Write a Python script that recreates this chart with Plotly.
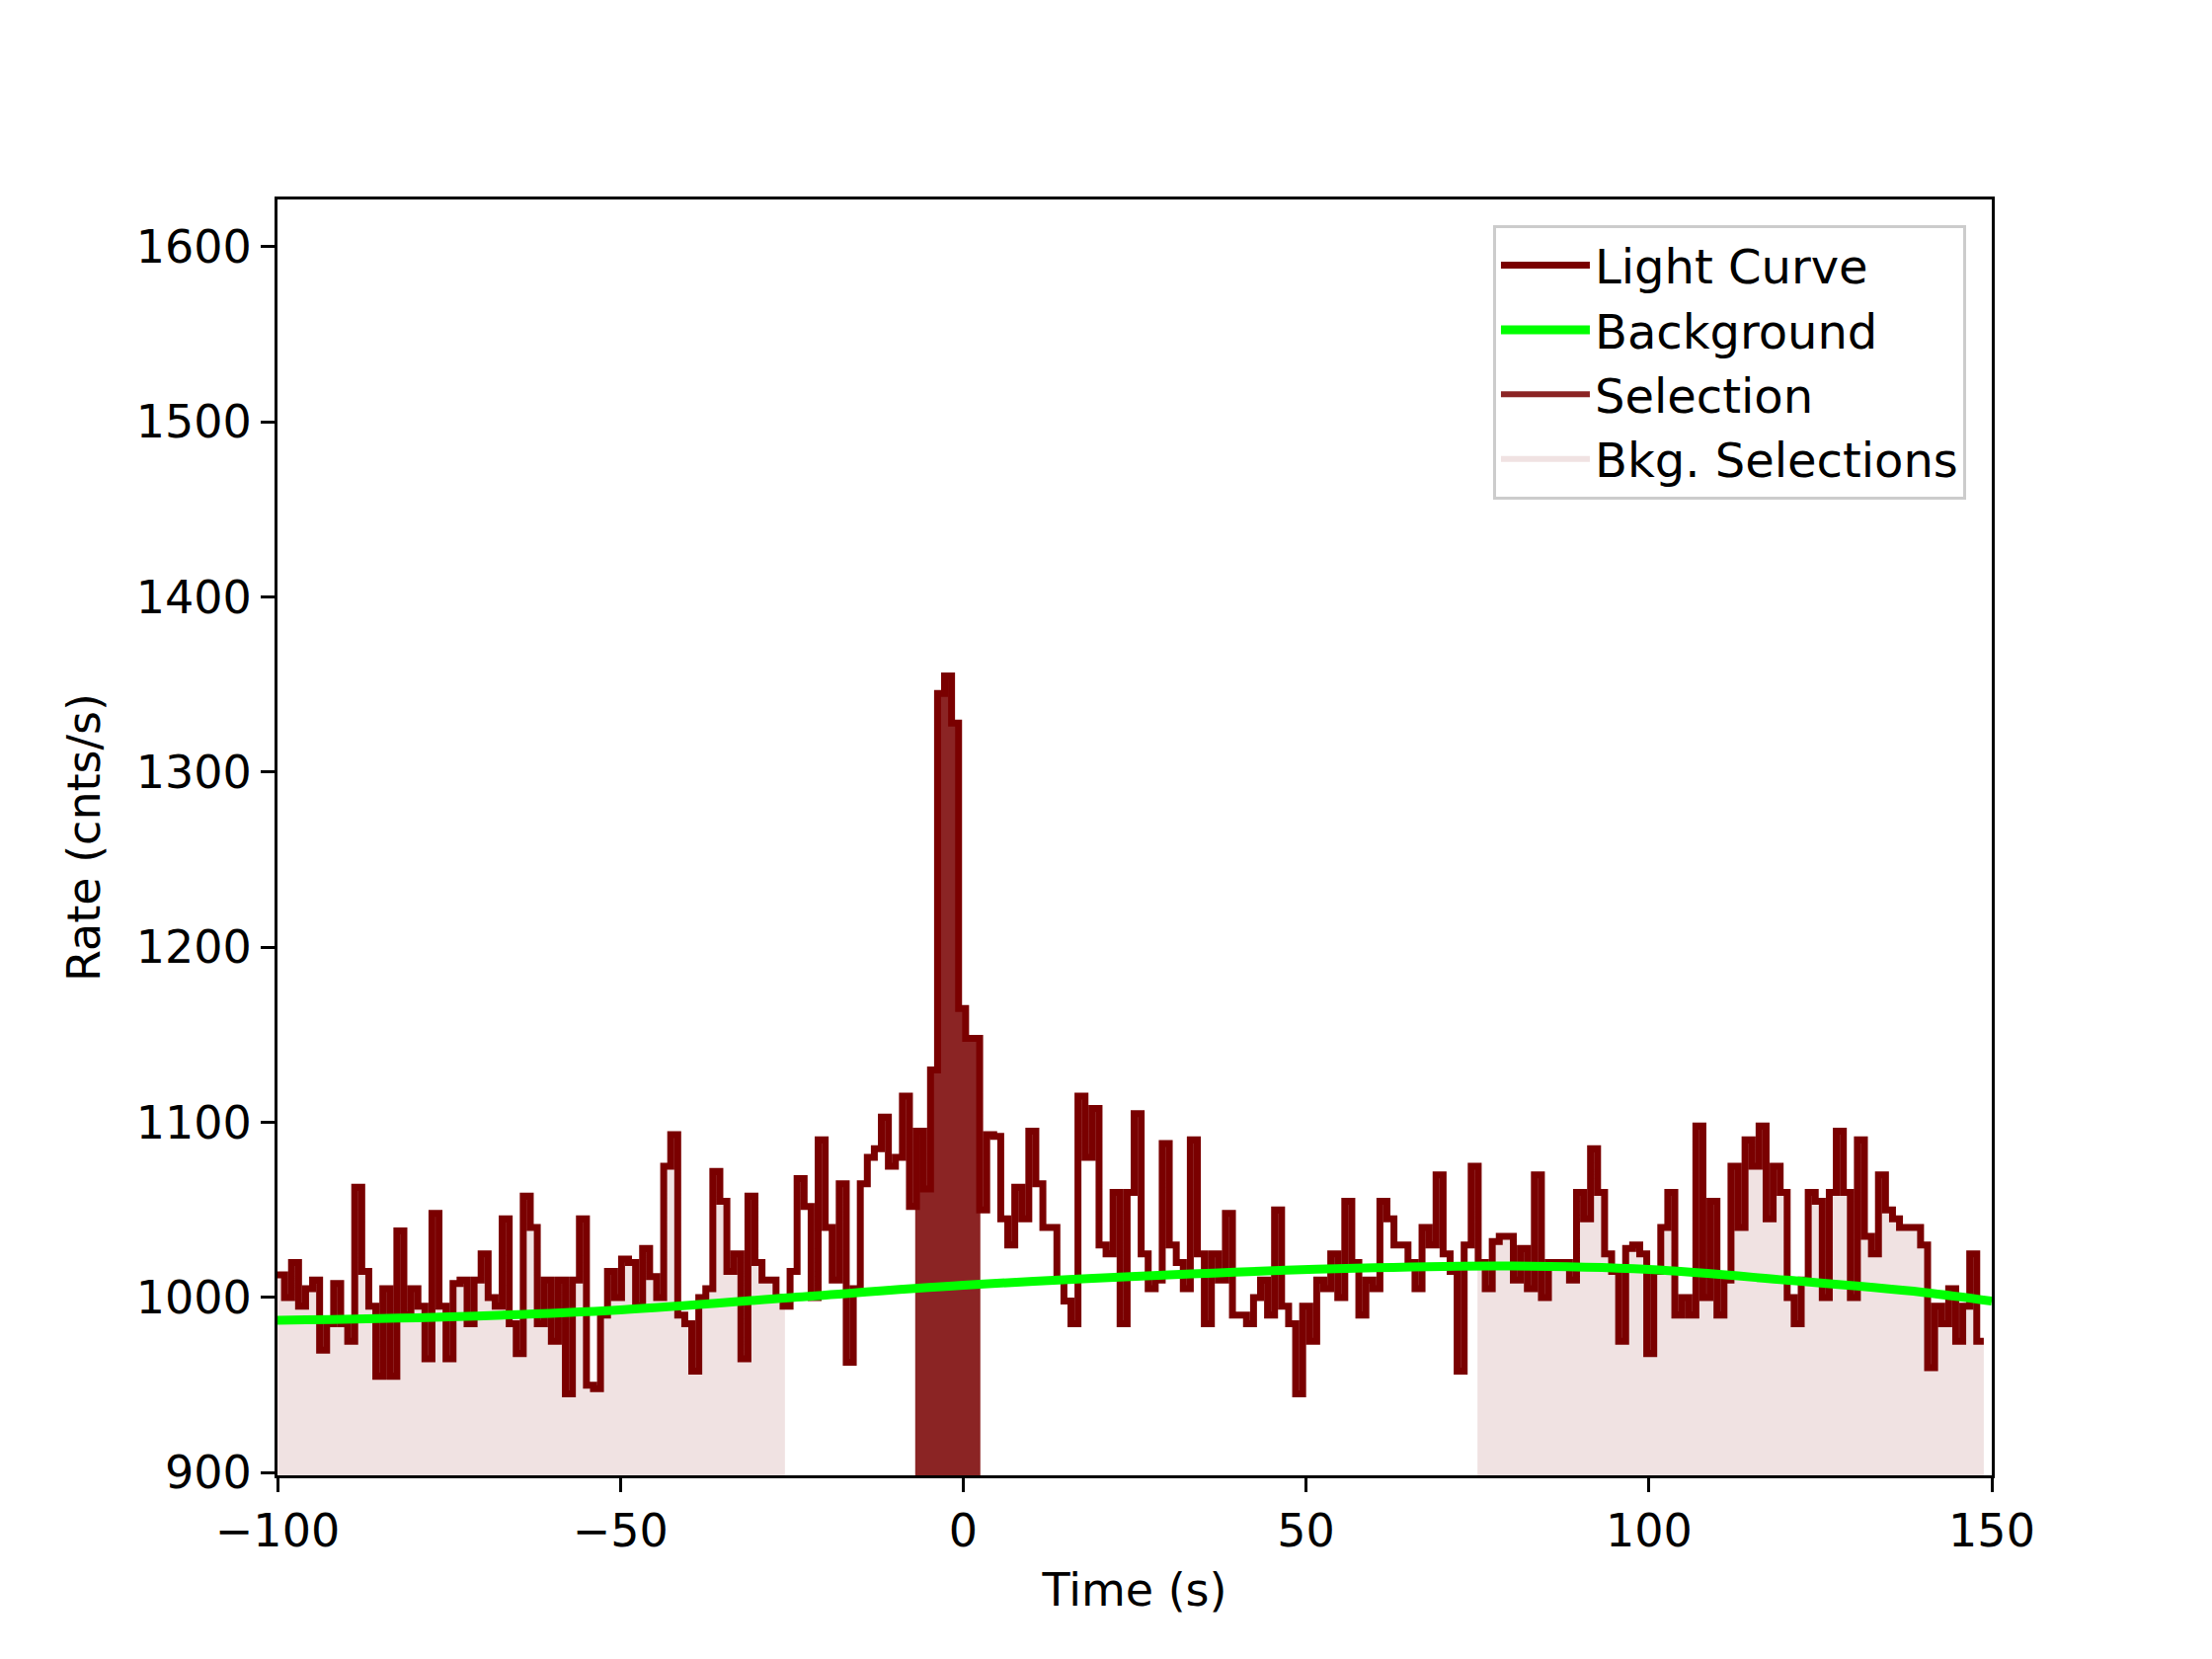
import numpy as np
import plotly.graph_objects as go

rate = [1013,1000,1020,995,1005,1010,970,985,1008,985,975,1063,1015,995,955,1005,955,1038,990,1005,
995,965,1048,995,965,1008,1010,985,1010,1025,1000,995,1045,985,968,1058,1040,985,1010,975,
1010,945,1010,1045,950,948,990,1015,1000,1022,1020,995,1028,1012,1000,1075,1093,990,985,958,
1000,1005,1072,1055,1015,1025,965,1058,1020,1010,1010,1000,995,1015,1068,1052,1000,1090,1040,1010,
1065,963,1005,1065,1080,1085,1103,1075,1080,1115,1052,1095,1062,1130,1345,1355,1328,1165,1148,1148,
1050,1093,1092,1045,1030,1063,1045,1095,1065,1040,1040,1010,998,985,1115,1080,1108,1030,1025,1060,
985,1060,1105,1025,1005,1010,1088,1030,1020,1005,1090,1025,985,1025,1010,1048,990,990,985,1000,
1010,990,1050,995,985,945,995,975,1010,1005,1025,1000,1055,1020,990,1010,1005,1055,1045,1030,
1030,1020,1005,1040,1030,1070,1025,1015,958,1030,1075,1020,1005,1032,1035,1035,1010,1028,1005,1070,
1000,1020,1020,1020,1010,1060,1045,1085,1060,1025,1015,975,1028,1030,1025,968,1015,1040,1060,990,
1000,990,1098,1000,1055,990,1010,1075,1040,1090,1075,1098,1045,1075,1060,1000,985,1010,1060,1055,
1000,1060,1095,1060,1000,1090,1035,1025,1070,1050,1045,1040,1040,1040,1030,960,995,985,1005,975,
995,1025,975]
t_start = -100.0
bin_width = 1.024

bkg_t = [-100, -75, -50, -25, 0, 30, 60, 80, 100, 120, 140, 150]
bkg_v = [987, 989, 993, 1000, 1007, 1013, 1017, 1018, 1016, 1010, 1003, 998]

sel_range = [-7.0, 2.5]
bkg_ranges = [[-100.0, -26.0], [75.0, 150.0]]

edges = t_start + bin_width * np.arange(len(rate) + 1)
xs = edges
ys = list(rate) + [rate[-1]]
DARK = "#7a0000"
SEL = "#8b2424"
BKG = "rgba(240,226,226,1)"

def masked(lo, hi):
    m = (edges[:-1] >= lo - 1e-9) & (edges[:-1] < hi)
    xe = list(edges[:-1][m]) + [min(hi, edges[:-1][m][-1] + bin_width)]
    ye = list(np.array(rate)[m]) + [np.array(rate)[m][-1]]
    xe[0] = lo
    return xe, ye

fig = go.Figure()
for lo, hi in bkg_ranges:
    xe, ye = masked(lo, hi)
    fig.add_trace(go.Scatter(x=xe, y=ye, mode="lines", line=dict(shape="hv", width=0),
                             fill="tozeroy", fillcolor=BKG, showlegend=False, hoverinfo="skip"))
xe, ye = masked(*sel_range)
fig.add_trace(go.Scatter(x=xe, y=ye, mode="lines", line=dict(shape="hv", width=0),
                         fill="tozeroy", fillcolor=SEL, showlegend=False))
fig.add_trace(go.Scatter(x=xs, y=ys, mode="lines", line=dict(shape="hv", color=DARK, width=7),
                         name="Light Curve"))
fig.add_trace(go.Scatter(x=bkg_t, y=bkg_v, mode="lines", line=dict(shape="spline", color="#00ff00", width=9),
                         name="Background"))
# legend-only proxies placed outside the visible range
proxy_x = [-300, -299, -299, -300]
proxy_y = [0, 0, 1, 1]
fig.add_trace(go.Scatter(x=proxy_x, y=proxy_y, mode="none", fill="toself", fillcolor=SEL,
                         name="Selection"))
fig.add_trace(go.Scatter(x=proxy_x, y=proxy_y, mode="none", fill="toself", fillcolor=BKG,
                         name="Bkg. Selections"))

axis_common = dict(showline=True, linecolor="black", linewidth=3, mirror=True, ticks="outside",
                   ticklen=14, tickwidth=3, tickcolor="black", showgrid=False, zeroline=False,
                   tickfont=dict(size=46, color="black"))
fig.update_layout(
    width=2240, height=1680, paper_bgcolor="white", plot_bgcolor="white",
    margin=dict(l=273, r=231, t=194, b=194),
    font=dict(family="DejaVu Sans", color="black"),
    showlegend=True,
    xaxis=dict(range=[-100, 150], tickvals=[-100, -50, 0, 50, 100, 150],
               ticktext=["\u2212100", "\u221250", "0", "50", "100", "150"],
               title=dict(text="Time (s)", font=dict(size=46), standoff=18), **axis_common),
    yaxis=dict(range=[898.5, 1627], tickvals=[900, 1000, 1100, 1200, 1300, 1400, 1500, 1600],
               title=dict(text="Rate (cnts/s)", font=dict(size=46), standoff=22), **axis_common),
    legend=dict(x=0.985, y=0.98, xanchor="right", yanchor="top", bgcolor="rgba(255,255,255,0.8)",
                bordercolor="#cccccc", borderwidth=3, font=dict(size=48), itemwidth=90,
                traceorder="normal"),
)
fig.write_html("out.html")
